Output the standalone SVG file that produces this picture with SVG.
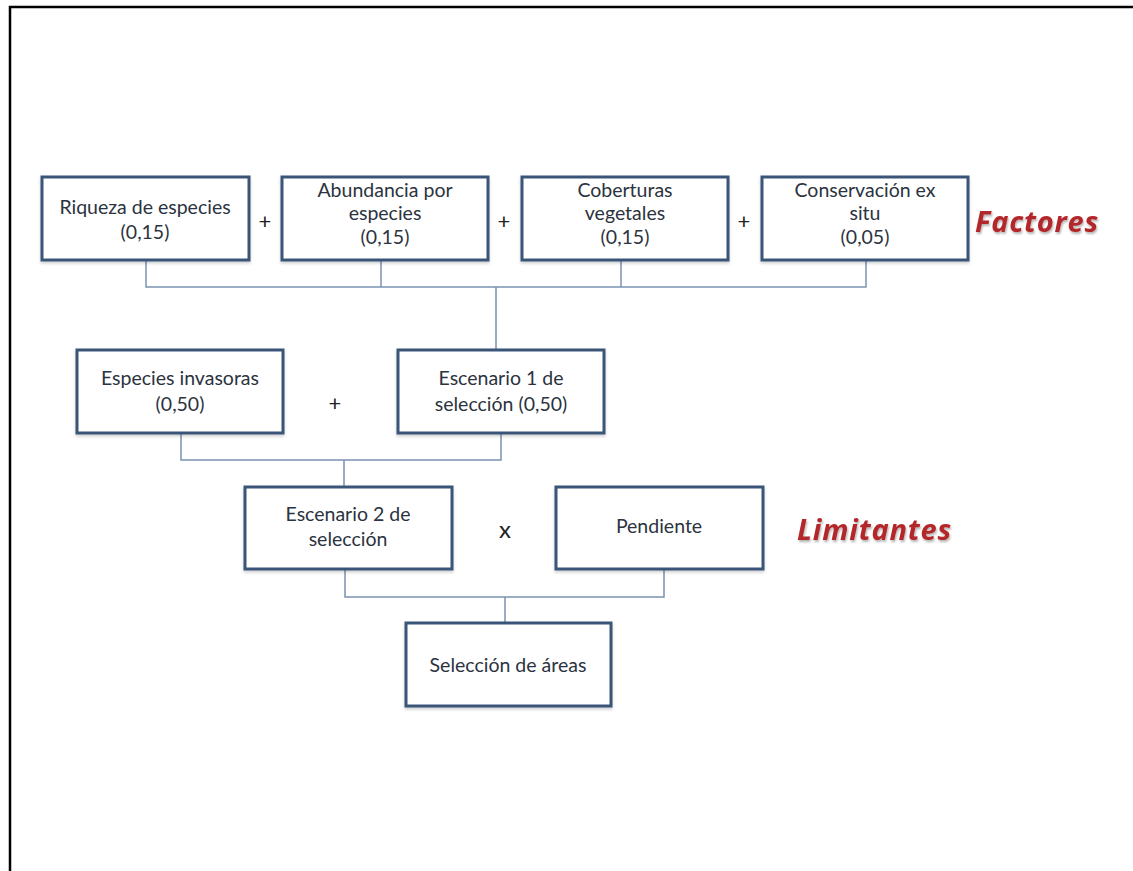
<svg xmlns="http://www.w3.org/2000/svg" width="1133" height="871" viewBox="0 0 1133 871">
<defs>
<filter id="sh" x="-10%" y="-10%" width="120%" height="130%">
<feGaussianBlur in="SourceAlpha" stdDeviation="1.5"/>
<feOffset dx="0" dy="2" result="b"/>
<feFlood flood-color="#000" flood-opacity="0.18"/>
<feComposite in2="b" operator="in"/>
<feMerge><feMergeNode/><feMergeNode in="SourceGraphic"/></feMerge>
</filter>
<filter id="tsh" x="-10%" y="-20%" width="120%" height="150%">
<feGaussianBlur in="SourceAlpha" stdDeviation="1"/>
<feOffset dx="1" dy="2" result="b"/>
<feFlood flood-color="#000" flood-opacity="0.3"/>
<feComposite in2="b" operator="in"/>
<feMerge><feMergeNode/><feMergeNode in="SourceGraphic"/></feMerge>
</filter>
</defs>
<style>
.box{fill:#fff;stroke:#3a5578;stroke-width:3;filter:url(#sh)}
.t{font-family:Lato,"Open Sans",sans-serif;font-size:19.5px;fill:#2b3340;text-anchor:middle}
.op{font-family:Lato,"Open Sans",sans-serif;font-size:22px;fill:#222;text-anchor:middle}
.lab{font-family:"Open Sans",Lato,sans-serif;font-size:29px;font-weight:bold;font-style:italic;fill:#b3262a;letter-spacing:0.8px;filter:url(#tsh)}
.c{fill:none;stroke:#7b93b3;stroke-width:1.5}
</style>
<rect width="1133" height="871" fill="#fff"/>
<path d="M10 871 V7 H1133" fill="none" stroke="#000" stroke-width="2.5"/>
<g id="connectors">
<path class="c" d="M146 260 V287 H866 V260 M381 260 V287 M621 260 V287 M496 287 V350"/>
<path class="c" d="M181 433 V460 H501 V433 M344 460 V487"/>
<path class="c" d="M345 568 V597 H664 V568 M505 597 V623"/>
</g>
<g id="riqueza"><rect class="box" x="42" y="177" width="207" height="83"/><text class="t" x="145" y="214">Riqueza de especies</text><text class="t" x="145" y="239">(0,15)</text></g>
<g id="abundancia"><rect class="box" x="282" y="177" width="206" height="83"/><text class="t" x="385" y="197">Abundancia por</text><text class="t" x="385" y="220">especies</text><text class="t" x="385" y="244">(0,15)</text></g>
<g id="coberturas"><rect class="box" x="522" y="177" width="206" height="83"/><text class="t" x="625" y="197">Coberturas</text><text class="t" x="625" y="220">vegetales</text><text class="t" x="625" y="244">(0,15)</text></g>
<g id="conservacion"><rect class="box" x="762" y="177" width="206" height="83"/><text class="t" x="865" y="197">Conservación ex</text><text class="t" x="865" y="220">situ</text><text class="t" x="865" y="244">(0,05)</text></g>
<g id="ops1"><text class="op" x="265" y="229">+</text><text class="op" x="504" y="229">+</text><text class="op" x="744" y="229">+</text></g>
<text class="lab" x="975" y="232">Factores</text>
<g id="invasoras"><rect class="box" x="77" y="350" width="206" height="83"/><text class="t" x="180" y="385">Especies invasoras</text><text class="t" x="180" y="411">(0,50)</text></g>
<text class="op" x="335" y="411">+</text>
<g id="escenario1"><rect class="box" x="398" y="350" width="206" height="83"/><text class="t" x="501" y="385">Escenario 1 de</text><text class="t" x="501" y="411">selección (0,50)</text></g>
<g id="escenario2"><rect class="box" x="245" y="487" width="207" height="82"/><text class="t" x="348" y="521">Escenario 2 de</text><text class="t" x="348" y="546">selección</text></g>
<text class="op" x="505" y="538" style="font-size:24px">x</text>
<g id="pendiente"><rect class="box" x="556" y="487" width="207" height="82"/><text class="t" x="659" y="533">Pendiente</text></g>
<text class="lab" x="797" y="540">Limitantes</text>
<g id="seleccion"><rect class="box" x="406" y="623" width="205" height="83"/><text class="t" x="508" y="672">Selección de áreas</text></g>
</svg>
